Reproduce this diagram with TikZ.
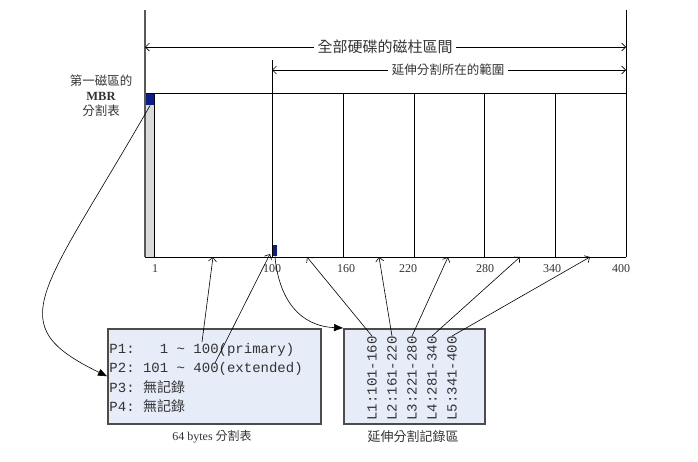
\documentclass[tikz,border=0pt]{standalone}
\usepackage{fontspec}
\setmainfont{Liberation Serif}
\setmonofont{Liberation Mono}
\newfontfamily\cjk{Noto Sans CJK TC}
\usetikzlibrary{arrows.meta}
\definecolor{tabfill}{RGB}{230,236,248}
\definecolor{mbrblue}{RGB}{12,28,140}
\definecolor{cylgray}{RGB}{218,218,218}
\begin{document}
\begin{tikzpicture}[x=1pt,y=-1pt,line width=0.9pt,
  open/.style={-{Straight Barb[length=4pt,width=8pt]},line width=0.6pt},
  fatarrow/.style={-{Triangle[length=9pt,width=7pt]},line width=0.6pt},
  tab/.style={draw=black!70,line width=1.5pt,fill=tabfill,anchor=north west,inner sep=0pt},
  mono/.style={font=\ttfamily\fontsize{14}{14}\selectfont,inner sep=0pt,text=black!80},
  cyl/.style={font=\fontsize{12}{12}\selectfont,text=black!80}]
 \useasboundingbox (0,0) rectangle (698,461);
 \fill[cylgray] (145,93) rectangle (154,257);
 \draw (154,93) -- (154,257) (145,93) -- (626,93) (145,257) -- (626,257);
 \draw[black!65,line width=1.4pt] (145,10) -- (145,257);
 \draw (626,10) -- (626,257) (272,60) -- (272,257);
 \foreach \x in {343,414,484,555}
   \draw (\x,93) -- (\x,257);
 \node[fill=mbrblue,minimum width=8pt,minimum height=11pt,inner sep=0pt,anchor=north west] (mbr) at (145.7,93.5) {};
 \node[fill=mbrblue,minimum width=4pt,minimum height=11pt,inner sep=0pt,anchor=south west] (ebr) at (272.5,256.5) {};
 \node[font=\cjk\fontsize{15}{15}\selectfont,text=black!80] (all) at (385,47) {全部硬碟的磁柱區間};
 \node[font=\cjk\fontsize{12.5}{12.5}\selectfont,text=black!80] (ext) at (448,70) {延伸分割所在的範圍};
 \coordinate (all0) at (145,47);
 \coordinate (all1) at (626,47);
 \coordinate (ext0) at (272,70);
 \coordinate (ext1) at (626,70);
 \draw[open] (all) -- (all0);
 \draw[open] (all) -- (all1);
 \draw[open] (ext) -- (ext0);
 \draw[open] (ext) -- (ext1);
 \node[align=center,font=\cjk\fontsize{12.5}{15}\selectfont,text=black!80] (mbrlab) at (101,96) {第一磁區的\\{\rmfamily\bfseries MBR}\\分割表};
 \foreach \x/\t in {155/1,272/100,346/160,408/220,485/280,552/340,621/400}
   \node[cyl] (c\t) at (\x,269) {\t};
 \node[tab,minimum width=213pt,minimum height=95pt] (ptab) at (107,328) {};
 \node[tab,minimum width=141pt,minimum height=95pt] (etab) at (343,328) {};
 \node[mono,anchor=base west] (p1) at (109,353) {P1:\ \ \ 1 \textasciitilde{} 100(primary)};
 \node[mono,anchor=base west] (p2) at (109,372.5) {P2: 101 \textasciitilde{} 400(extended)};
 \node[mono,anchor=base west] (p3) at (109,392) {P3: {\cjk 無記錄}};
 \node[mono,anchor=base west] (p4) at (109,411.5) {P4: {\cjk 無記錄}};
 \foreach \t [count=\i] in {101-160,161-220,221-280,281-340,341-400}
   \node[mono,rotate=90,anchor=west] (l\i) at (352+20*\i,421) {L\i:\t};
 \node[font=\fontsize{12}{12}\selectfont,text=black!80] (pcap) at (212,437) {64 bytes {\cjk 分割表}};
 \node[font=\cjk\fontsize{13}{13}\selectfont,text=black!80] (ecap) at (413,437) {延伸分割記錄區};
 \draw[fatarrow] (mbr.south) .. controls (40,297) and (0,324) .. (ptab.west);
 \draw[fatarrow] (ebr.south) .. controls (279,300) and (300,326) .. (etab.north west);
 \coordinate (s1) at (202,342);
 \coordinate (e1) at (213,257);
 \coordinate (s2) at (215,363);
 \coordinate (e2) at (270,254);
 \draw[open] (s1) -- (e1);
 \draw[open] (s2) -- (e2);
 \foreach \i/\x in {1/307,2/379,3/448,4/520,5/590} {
   \coordinate (t\i) at (\x,257);
   \draw[open] (l\i.east) -- (t\i);
 }
\end{tikzpicture}
\end{document}
